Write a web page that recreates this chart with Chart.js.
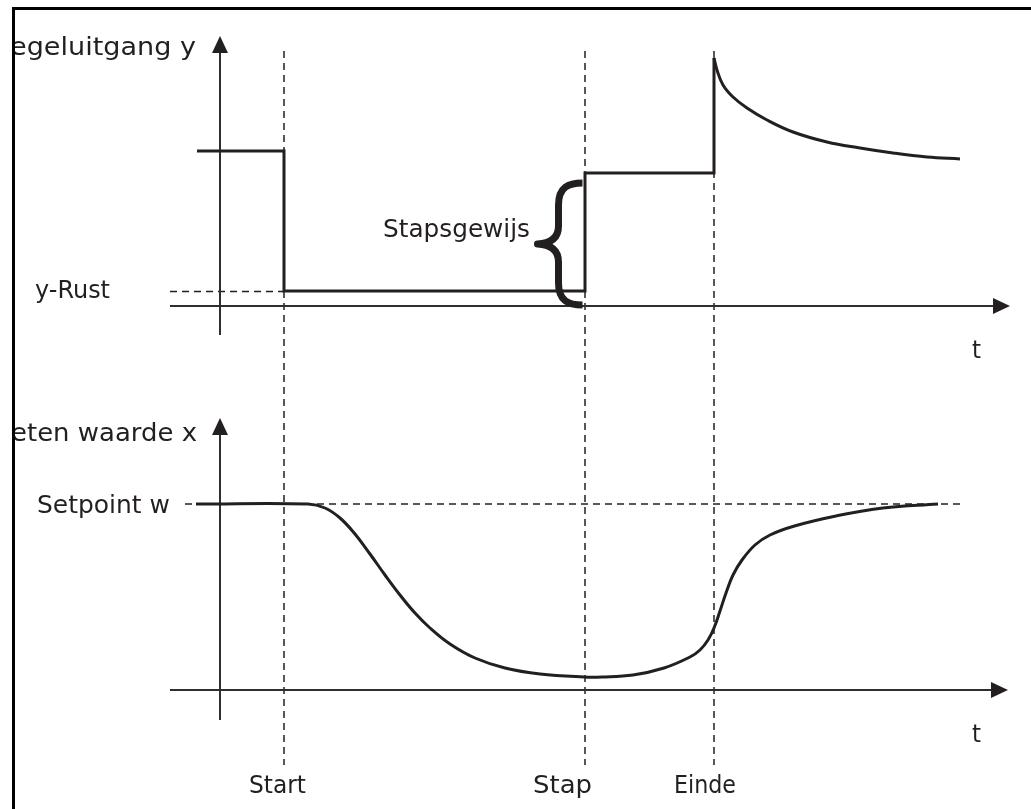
<!DOCTYPE html>
<html>
<head>
<meta charset="utf-8">
<script src="https://cdn.jsdelivr.net/npm/chart.js@4.4.1/dist/chart.umd.min.js"></script>
<style>
  html, body { margin: 0; padding: 0; background: #ffffff; }
  #wrap { width: 1031px; height: 809px; position: relative; }
</style>
</head>
<body>
<div id="wrap"><canvas id="c" width="1031" height="809"></canvas></div>
<script>
// ---------------- DATA ----------------
// time axis t (arbitrary units), events
const eventNames = ['Start', 'Stap', 'Einde'];
const eventTimes = [6.4, 36.5, 49.4];

// top plot: regeluitgang y (stepped part)
const stepT = [-2.3, 6.4, 6.4, 36.5, 36.5, 49.4, 49.4];
const stepY = [15.5, 15.5, 1.5, 1.5, 13.3, 13.3, 24.8];
// top plot: regeluitgang y (decay after Einde)
const decayT = [49.4, 49.7, 50.3, 51.3, 52.7, 54.7, 57.3, 60.7, 64.0, 67.3, 70.7, 74.0];
const decayY = [24.8, 23.6, 22.1, 20.9, 19.8, 18.6, 17.4, 16.4, 15.8, 15.3, 14.9, 14.7];
const yRust = 1.5;

// bottom plot: gemeten waarde x
const measT = [-2.4, 8.8, 10.5, 12.0, 13.5, 15.0, 16.5, 18.0, 19.5, 21.0, 23.0, 25.5, 28.5, 32.0, 36.4, 38.2, 41.3, 44.4, 47.0, 48.0, 48.8, 49.4, 50.0, 50.6, 51.3, 52.2, 53.5, 55.0, 57.45, 61.6, 66.3, 71.8];
const measX = [18.6, 18.6, 18.2, 17.2, 15.6, 13.6, 11.5, 9.5, 7.7, 6.2, 4.6, 3.2, 2.2, 1.6, 1.3, 1.3, 1.5, 2.2, 3.3, 4.0, 5.0, 6.2, 7.9, 9.7, 11.5, 13.0, 14.5, 15.5, 16.4, 17.4, 18.2, 18.6];
const setpointW = 18.6;

// texts
const labelOut = 'Regeluitgang y';
const labelMeas = 'Gemeten waarde x';
const labelRust = 'y-Rust';
const labelSetpoint = 'Setpoint w';
const labelStep = 'Stapsgewijs';
const labelTime = 't';

// ---------------- STYLE / LAYOUT ----------------
const INK = '#231f20';
const AXIS = '#2e2e2e';
const FONT = '25px "DejaVu Sans", sans-serif';

const toPts = (xs, ys) => xs.map((x, i) => ({ x: x, y: ys[i] }));

// draw text so that `fitPart` (suffix of str, or str) spans targetW px; anchored left / right / center
function drawFit(ctx, str, fitPart, targetW, x, y, align) {
  ctx.save();
  ctx.font = FONT;
  ctx.fillStyle = INK;
  ctx.textBaseline = 'alphabetic';
  ctx.textAlign = 'left';
  const sx = targetW / ctx.measureText(fitPart).width;
  const full = ctx.measureText(str).width * sx;
  let left = x;
  if (align === 'right') left = x - full;
  else if (align === 'center') left = x - full / 2;
  ctx.translate(left, y);
  ctx.scale(sx, 1);
  ctx.fillText(str, 0, 0);
  ctx.restore();
}

function arrowLine(ctx, x1, y1, x2, y2) {
  const ang = Math.atan2(y2 - y1, x2 - x1);
  const L = 17, H = 8;
  ctx.save();
  ctx.strokeStyle = AXIS;
  ctx.fillStyle = INK;
  ctx.lineWidth = 2;
  ctx.beginPath();
  ctx.moveTo(x1, y1);
  ctx.lineTo(x2 - Math.cos(ang) * (L - 2), y2 - Math.sin(ang) * (L - 2));
  ctx.stroke();
  ctx.beginPath();
  ctx.moveTo(x2, y2);
  ctx.lineTo(x2 - Math.cos(ang) * L - Math.sin(ang) * H, y2 - Math.sin(ang) * L + Math.cos(ang) * H);
  ctx.lineTo(x2 - Math.cos(ang) * L + Math.sin(ang) * H, y2 - Math.sin(ang) * L - Math.cos(ang) * H);
  ctx.closePath();
  ctx.fill();
  ctx.restore();
}

function dashed(ctx, x1, y1, x2, y2) {
  ctx.save();
  ctx.strokeStyle = INK;
  ctx.lineWidth = 1.5;
  ctx.setLineDash([7, 5]);
  ctx.beginPath();
  ctx.moveTo(x1, y1);
  ctx.lineTo(x2, y2);
  ctx.stroke();
  ctx.restore();
}

const diagram = {
  id: 'diagram',
  beforeDatasetsDraw(chart) {
    const ctx = chart.ctx;
    const X = chart.scales.x, YO = chart.scales.yOut, YM = chart.scales.yMeas;
    const px = t => X.getPixelForValue(t);
    const po = v => YO.getPixelForValue(v);
    const pm = v => YM.getPixelForValue(v);

    // event dashed verticals
    eventTimes.forEach(t => {
      const x = Math.round(px(t));
      dashed(ctx, x, po(25.5), x, pm(-7.5));
    });
    // y-Rust dashed reference
    dashed(ctx, px(-5), Math.round(po(yRust)) + 0.5, px(eventTimes[0]), Math.round(po(yRust)) + 0.5);
    // setpoint dashed reference
    dashed(ctx, px(-3.5), Math.round(pm(setpointW)), px(74.4), Math.round(pm(setpointW)));

    // axes
    arrowLine(ctx, px(0), po(-2.9), px(0), po(27.0));
    arrowLine(ctx, px(-5), po(0), px(79), po(0));
    arrowLine(ctx, px(0), pm(-3.0), px(0), pm(27.2));
    arrowLine(ctx, px(-5), pm(0), px(78.8), pm(0));
  },
  afterDatasetsDraw(chart) {
    const ctx = chart.ctx;
    const X = chart.scales.x, YO = chart.scales.yOut, YM = chart.scales.yMeas;
    const px = t => X.getPixelForValue(t);
    const po = v => YO.getPixelForValue(v);
    const pm = v => YM.getPixelForValue(v);

    // brace
    const bx = px(eventTimes[1]) - 2.5;
    const top = po(12.3), bot = po(0.1), mid = (top + bot) / 2;
    const body = bx - 24, tip = bx - 45;
    ctx.save();
    ctx.strokeStyle = INK;
    ctx.lineWidth = 7;
    ctx.lineJoin = 'round';
    ctx.beginPath();
    ctx.moveTo(bx, top);
    ctx.bezierCurveTo(bx - 14, top, body, top + 4, body, top + 22);
    ctx.lineTo(body, mid - 18);
    ctx.quadraticCurveTo(body, mid - 1, tip, mid);
    ctx.quadraticCurveTo(body, mid + 1, body, mid + 18);
    ctx.lineTo(body, bot - 22);
    ctx.bezierCurveTo(body, bot - 4, bx - 14, bot, bx, bot);
    ctx.stroke();
    ctx.restore();

    // labels
    drawFit(ctx, labelStep, labelStep, 147, 383, po(yRust) - 54, 'left');
    drawFit(ctx, labelRust, labelRust, 75, 35, po(yRust) + 7, 'left');
    drawFit(ctx, labelSetpoint, labelSetpoint, 133, 37, pm(setpointW) + 9, 'left');
    drawFit(ctx, labelTime, labelTime, 9, 972, po(0) + 52, 'left');
    drawFit(ctx, labelTime, labelTime, 9, 972, pm(0) + 52, 'left');

    const offs = [-6.5, -22.5, -9];
    const widths = [57, 59, 62];
    eventNames.forEach((n, i) => drawFit(ctx, n, n, widths[i], px(eventTimes[i]) + offs[i], 793, 'center'));

    // axis titles, clipped by frame
    ctx.save();
    ctx.beginPath();
    ctx.rect(14, 0, 1031, 809);
    ctx.clip();
    drawFit(ctx, labelOut, 'egeluitgang y', 186, 196, 55, 'right');
    drawFit(ctx, labelMeas, 'eten waarde x', 186, 197, 441, 'right');
    ctx.restore();

    // frame
    ctx.save();
    ctx.strokeStyle = '#000';
    ctx.lineWidth = 3;
    ctx.beginPath();
    ctx.moveTo(13.5, 809);
    ctx.lineTo(13.5, 8.5);
    ctx.lineTo(1031, 8.5);
    ctx.stroke();
    ctx.restore();
  }
};

new Chart(document.getElementById('c'), {
  type: 'line',
  data: {
    datasets: [
      {
        label: 'y stap',
        data: toPts(stepT, stepY),
        yAxisID: 'yOut',
        borderColor: INK,
        borderWidth: 3,
        tension: 0,
        borderJoinStyle: 'miter',
        pointRadius: 0,
        fill: false
      },
      {
        label: 'y verloop',
        data: toPts(decayT, decayY),
        yAxisID: 'yOut',
        borderColor: INK,
        borderWidth: 3,
        tension: 0.4,
        pointRadius: 0,
        fill: false
      },
      {
        label: 'x',
        data: toPts(measT, measX),
        yAxisID: 'yMeas',
        borderColor: INK,
        borderWidth: 3,
        tension: 0.4,
        pointRadius: 0,
        fill: false
      }
    ]
  },
  options: {
    responsive: false,
    animation: false,
    layout: { padding: 0 },
    plugins: { legend: { display: false }, tooltip: { enabled: false }, title: { display: false } },
    scales: {
      x: { type: 'linear', min: -22, max: 81.1, display: false },
      yOut: { type: 'linear', position: 'left', min: -50.3, max: 30.6, display: false },
      yMeas: { type: 'linear', position: 'left', min: -11.9, max: 69.0, display: false }
    }
  },
  plugins: [diagram]
});
</script>
</body>
</html>
